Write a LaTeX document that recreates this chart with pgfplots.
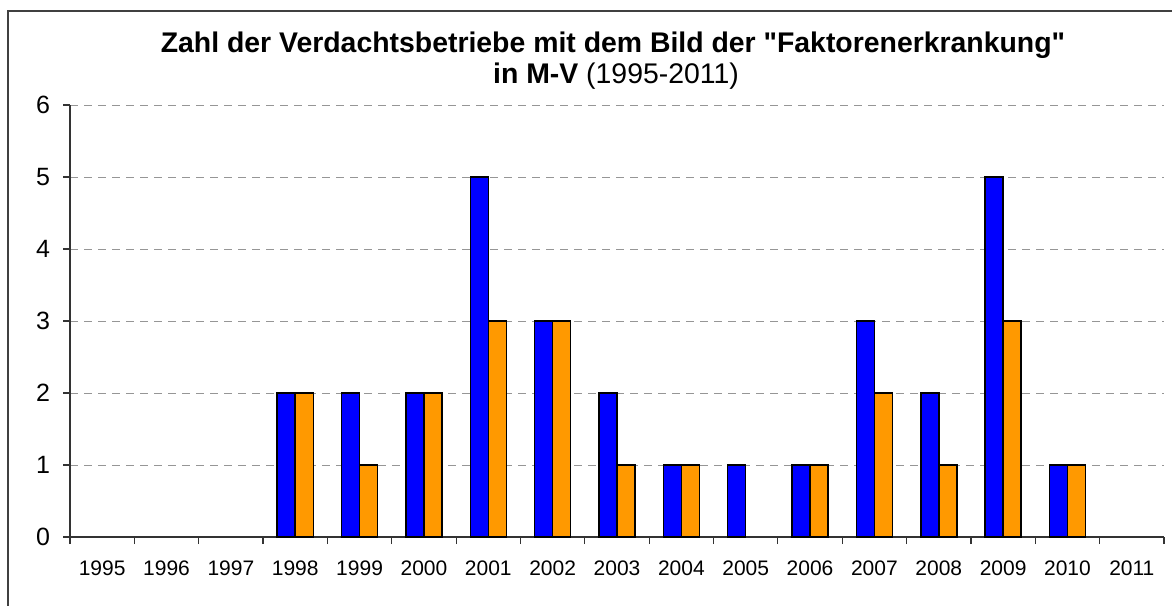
\documentclass[border=0pt]{standalone}
\usepackage{pgfplots}
\pgfplotsset{compat=1.18}
\usepackage{fontspec}
\setmainfont{Liberation Sans}[Ligatures=TeXOff]
\definecolor{barblue}{RGB}{0,0,255}
\definecolor{barorange}{RGB}{255,153,0}
\definecolor{gridgray}{RGB}{150,150,150}
\begin{document}
\begin{tikzpicture}
\path[use as bounding box] (0,0) rectangle (586pt,302.5pt);
\draw[line width=1pt, black!75] (4pt,-20pt) -- (4pt,297pt) -- (620pt,297pt);
\node[font=\fontsize{14.2}{16}\selectfont\bfseries] at (306.5pt,280pt) {Zahl der Verdachtsbetriebe mit dem Bild der "Faktorenerkrankung"};
\node[font=\fontsize{14.2}{16}\selectfont] at (308pt,264.5pt) {\textbf{in M-V} (1995-2011)};
\begin{axis}[
  at={(35pt,34pt)}, anchor=south west,
  scale only axis, width=547pt, height=216pt,
  xmin=-0.5, xmax=16.5, ymin=0, ymax=6,
  axis x line=bottom, axis y line=left,
  axis line style={-, black!80, line width=0.6pt},
  ybar=0pt, bar width=0.28,
  xtick={-0.5,0.5,1.5,2.5,3.5,4.5,5.5,6.5,7.5,8.5,9.5,10.5,11.5,12.5,13.5,14.5,15.5,16.5},
  xticklabels={},
  extra x ticks={0,1,2,3,4,5,6,7,8,9,10,11,12,13,14,15,16},
  extra x tick labels={1995,1996,1997,1998,1999,2000,2001,2002,2003,2004,2005,2006,2007,2008,2009,2010,2011},
  extra x tick style={major tick length=0pt, xticklabel style={anchor=center, yshift=-15.5pt}},
  ytick={0,1,2,3,4,5,6},
  tick align=outside, major tick length=3.5pt,
  tick style={black!80, line width=0.6pt},
  ymajorgrids, xmajorgrids=false,
  grid style={gridgray, dash pattern=on 4pt off 3pt, line width=0.5pt},
  xticklabel style={font=\fontsize{10.5}{12}\selectfont},
  yticklabel style={font=\fontsize{12.5}{14}\selectfont, xshift=-3pt},
  /pgf/number format/assume math mode=true,
  clip=false,
]
\addplot[draw=black, line width=0.75pt, fill=barblue] coordinates {
 (3,2) (4,2) (5,2) (6,5) (7,3) (8,2) (9,1) (10,1) (11,1) (12,3) (13,2) (14,5) (15,1)};
\addplot[draw=black, line width=0.75pt, fill=barorange] coordinates {
 (3,2) (4,1) (5,2) (6,3) (7,3) (8,1) (9,1) (11,1) (12,2) (13,1) (14,3) (15,1)};
\end{axis}
\end{tikzpicture}
\end{document}
